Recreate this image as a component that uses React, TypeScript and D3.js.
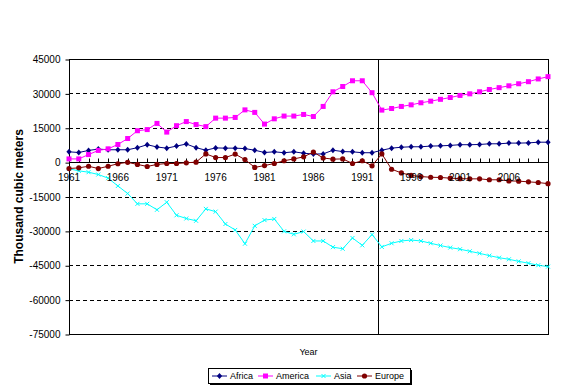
import React, { useRef, useEffect } from 'react';
import * as d3 from 'd3';

const years = d3.range(1961, 2011);
const yearLabels = d3.range(1961, 2010, 5);
const yTicks = [45000, 30000, 15000, 0, -15000, -30000, -45000, -60000, -75000];
const dividerYear = 1992.65;

const africa = [
  4500, 4200, 5100, 5700, 5400, 5400, 5400, 6300, 7600, 6600,
  6100, 7000, 7900, 6300, 5200, 6200, 6100, 6100, 5900, 5200,
  4200, 4500, 4100, 4500, 3900, 3500, 3600, 5200, 4600, 4500,
  4100, 4100, 5200, 6100, 6500, 6700, 6700, 7000, 7100, 7300,
  7600, 7600, 7700, 8000, 8000, 8300, 8300, 8400, 8700, 8700
];

const america = [
  1400, 1400, 3300, 5100, 5800, 7700, 10300, 13700, 14200, 16900,
  13100, 15900, 17700, 16400, 15500, 19200, 19200, 19500, 22800, 21700,
  16600, 18900, 20100, 20100, 20800, 19900, 24300, 30700, 33000, 35500,
  35500, 30300, 22700, 23400, 24300, 25000, 25900, 26600, 27400, 28200,
  29100, 29800, 30700, 31700, 32500, 33300, 34200, 35100, 36300, 37300
];

const asia = [
  -2900, -3800, -4400, -5400, -7000, -10400, -13700, -18200, -18200, -20800,
  -17500, -23200, -24600, -25600, -20400, -21600, -27000, -29600, -35600, -27800,
  -25300, -24800, -30200, -31500, -30300, -34400, -34400, -37100, -37800, -33100,
  -36300, -31600, -37000, -35400, -34400, -34000, -34400, -35400, -36400, -37300,
  -38000, -38900, -39800, -40800, -41700, -42400, -43300, -44100, -45000, -45600
];

const europe = [
  -2800, -2500, -1800, -2800, -1800, -700, -100, -1000, -1900, -1000,
  -600, -600, -300, 0, 3600, 2000, 2000, 3500, 1100, -2300,
  -1500, -600, 600, 1400, 2300, 4400, 1800, 1300, 1400, -600,
  600, -1600, 3600, -3100, -4700, -5800, -6300, -6600, -6700, -7000,
  -7200, -7300, -7300, -7700, -7700, -8200, -8300, -8600, -8900, -9400
];

type Marker = 'diamond' | 'square' | 'cross' | 'circle';

const series: { name: string; values: number[]; color: string; marker: Marker }[] = [
  { name: 'Africa', values: africa, color: '#000080', marker: 'diamond' },
  { name: 'America', values: america, color: '#ff00ff', marker: 'square' },
  { name: 'Asia', values: asia, color: '#00ffff', marker: 'cross' },
  { name: 'Europe', values: europe, color: '#800000', marker: 'circle' }
];

const FONT = '"Liberation Sans", Arial, sans-serif';

const drawMarker = (
  g: d3.Selection<SVGGElement, unknown, null, undefined>,
  type: Marker,
  cx: number,
  cy: number,
  color: string
) => {
  if (type === 'diamond') {
    g.append('path')
      .attr('d', `M${cx},${cy - 3}L${cx + 2.6},${cy}L${cx},${cy + 3}L${cx - 2.6},${cy}Z`)
      .attr('fill', color);
  } else if (type === 'square') {
    g.append('rect')
      .attr('x', cx - 2.5)
      .attr('y', cy - 2.5)
      .attr('width', 5)
      .attr('height', 5)
      .attr('fill', color);
  } else if (type === 'circle') {
    g.append('circle').attr('cx', cx).attr('cy', cy).attr('r', 2.6).attr('fill', color);
  } else {
    g.append('path')
      .attr('d', `M${cx - 2},${cy - 2}L${cx + 2},${cy + 2}M${cx - 2},${cy + 2}L${cx + 2},${cy - 2}`)
      .attr('stroke', color)
      .attr('stroke-width', 1)
      .attr('fill', 'none');
  }
};

const Chart: React.FC = () => {
  const ref = useRef<SVGSVGElement | null>(null);
  const width = 570;
  const height = 390;

  useEffect(() => {
    if (!ref.current) return;
    const svg = d3.select(ref.current);
    svg.selectAll('*').remove();

    const left = 69;
    const right = 548;
    const top = 59;
    const bottom = 334;

    const x = d3.scaleLinear().domain([1961, 2010]).range([left, right]);
    const y = d3.scaleLinear().domain([-75000, 45000]).range([bottom, top]);

    svg.append('rect').attr('width', width).attr('height', height).attr('fill', '#fff');

    // dashed gridlines
    const grid = svg.append('g');
    yTicks
      .filter(t => t !== 0 && t !== 45000 && t !== -75000)
      .forEach(t => {
        grid.append('line')
          .attr('x1', left)
          .attr('x2', right)
          .attr('y1', Math.round(y(t)) + 0.5)
          .attr('y2', Math.round(y(t)) + 0.5)
          .attr('stroke', '#000')
          .attr('stroke-dasharray', '4,3');
      });

    // plot frame
    svg.append('rect')
      .attr('x', left + 0.5)
      .attr('y', top + 0.5)
      .attr('width', right - left)
      .attr('height', bottom - top)
      .attr('fill', 'none')
      .attr('stroke', '#000');

    // y axis
    const yAxis = svg.append('g')
      .attr('transform', `translate(${left + 0.5},0.5)`)
      .call(d3.axisLeft(y).tickValues(yTicks).tickSize(4).tickPadding(5).tickFormat(d => String(d)));
    yAxis.select('.domain').remove();
    yAxis.selectAll('line').attr('stroke', '#000');
    yAxis.selectAll('text')
      .attr('font-family', FONT)
      .attr('font-size', 10)
      .attr('fill', '#000');

    // category axis at zero
    const y0 = Math.round(y(0)) + 0.5;
    svg.append('line')
      .attr('x1', left)
      .attr('x2', right)
      .attr('y1', y0)
      .attr('y2', y0)
      .attr('stroke', '#000');
    svg.append('g')
      .selectAll('line')
      .data(years)
      .join('line')
      .attr('x1', d => Math.round(x(d)) + 0.5)
      .attr('x2', d => Math.round(x(d)) + 0.5)
      .attr('y1', y0 - 4)
      .attr('y2', y0)
      .attr('stroke', '#000');

    svg.append('line')
      .attr('x1', Math.round(x(dividerYear)) + 0.5)
      .attr('x2', Math.round(x(dividerYear)) + 0.5)
      .attr('y1', top)
      .attr('y2', bottom)
      .attr('stroke', '#000');

    // series
    const line = d3
      .line<number>()
      .x((_, i) => x(years[i]))
      .y(d => y(d));

    series.forEach(s => {
      const g = svg.append('g');
      g.append('path')
        .datum(s.values)
        .attr('fill', 'none')
        .attr('stroke', s.color)
        .attr('stroke-width', 1)
        .attr('d', line);
      s.values.forEach((v, i) => drawMarker(g, s.marker, x(years[i]), y(v), s.color));
    });

    // year labels drawn over the data, like the original
    svg.append('g')
      .selectAll('text')
      .data(yearLabels)
      .join('text')
      .attr('x', d => x(d))
      .attr('y', y0 + 18)
      .attr('text-anchor', 'middle')
      .attr('font-family', FONT)
      .attr('font-size', 10)
      .text(d => String(d));

    svg.append('text')
      .attr('transform', `translate(23,${(top + bottom) / 2}) rotate(-90)`)
      .attr('text-anchor', 'middle')
      .attr('font-family', FONT)
      .attr('font-size', 12)
      .attr('font-weight', 'bold')
      .text('Thousand cubic meters');

    svg.append('text')
      .attr('x', (left + right) / 2)
      .attr('y', 355)
      .attr('text-anchor', 'middle')
      .attr('font-family', FONT)
      .attr('font-size', 9)
      .text('Year');

    // legend
    const lg = svg.append('g');
    const lx = 208;
    const ly = 368;
    const lw = 202;
    const lh = 15;
    lg.append('rect').attr('x', lx + 2).attr('y', ly + 2).attr('width', lw).attr('height', lh).attr('fill', '#000');
    lg.append('rect')
      .attr('x', lx + 0.5)
      .attr('y', ly + 0.5)
      .attr('width', lw)
      .attr('height', lh)
      .attr('fill', '#fff')
      .attr('stroke', '#000');
    const itemX = [212, 258, 316, 357];
    series.forEach((s, i) => {
      const ix = itemX[i];
      const cy = ly + lh / 2 + 0.5;
      lg.append('line')
        .attr('x1', ix)
        .attr('x2', ix + 15)
        .attr('y1', cy)
        .attr('y2', cy)
        .attr('stroke', s.color);
      drawMarker(lg, s.marker, ix + 7.5, cy, s.color);
      lg.append('text')
        .attr('x', ix + 18)
        .attr('y', cy + 3.3)
        .attr('font-family', FONT)
        .attr('font-size', 9)
        .text(s.name);
    });
  }, []);

  return (
    <svg
      ref={ref}
      width={width}
      height={height}
      style={{ position: 'absolute', left: 0, top: 0 }}
    />
  );
};

export default function App() {
  return <Chart />;
}
